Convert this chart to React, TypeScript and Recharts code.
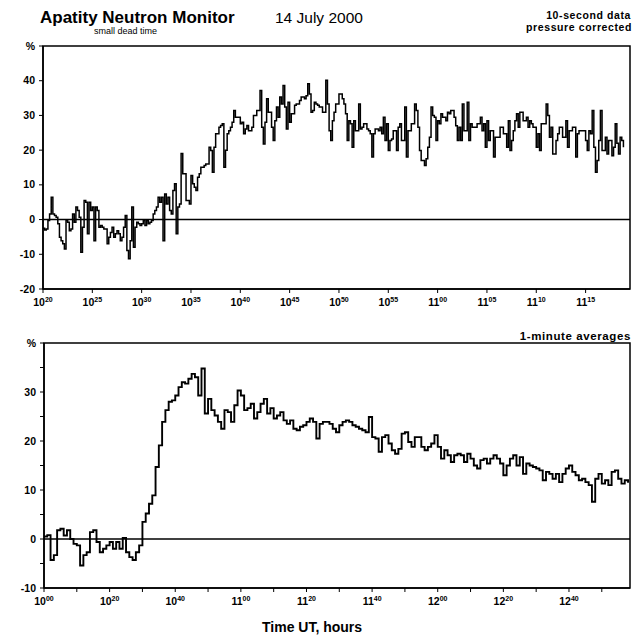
import React from "react";
import {
  LineChart,
  Line,
  XAxis,
  YAxis,
  ReferenceLine,
  ReferenceArea,
} from "recharts";

// 10-second data, starting 10:20 UT (percent)
const topValues = [
  -2.5, -3, -2.7, -0.3, 1.6, 6.4, 1.6, 1.2, 0.7, -1.2,
  -5.1, -6.1, -7.0, -8.5, -0.3, -0.8, -3.2, -2.7, 1.6, -0.8,
  3.6, 2.6, 0.7, -9.4, -2.2, 5.5, 5.0, -4.1, 5.0, 2.6,
  3.6, -6.1, 3.6, 2.6, -2.2, -1.7, -2.2, -2.7, -2.7, -7.0,
  -5.1, -3.7, -2.2, -5.1, -4.1, -3.2, -4.1, -6.1, -5.1, -2.2,
  1.2, -8.9, -11.3, -6.1, 3.6, -8.0, -2.2, -0.8, -1.2, -1.7,
  -1.2, -0.3, -1.7, -0.3, -1.2, -0.8, -0.3, 1.6, 2.6, 3.6,
  6.4, 5.0, 6.4, -6.1, 7.4, 4.5, 6.4, 2.6, 1.6, 8.4,
  10.3, -4.1, 3.6, 4.5, 19.0, 13.2, 13.2, 5.5, 5.5, 4.5,
  12.7, 10.3, 9.3, 8.4, 12.2, 13.2, 15.1, 15.1, 15.6, 16.0,
  16.0, 20.8, 19.9, 13.6, 20.8, 24.7, 24.7, 26.6, 27.1, 27.6,
  15.1, 20.0, 24.7, 25.6, 26.6, 28.0, 31.4, 29.5, 29.5, 29.5,
  27.6, 28.0, 24.7, 26.1, 27.1, 25.6, 25.6, 26.6, 30.0, 30.0,
  31.4, 31.4, 37.2, 26.6, 21.8, 28.0, 34.8, 30.9, 30.9, 26.6,
  22.8, 28.5, 32.4, 29.5, 35.3, 33.3, 38.6, 32.4, 26.1, 33.8,
  28.0, 30.5, 30.5, 32.9,
  33.3, 33.3, 34.3, 35.3, 35.3, 34.8, 35.7, 39.1, 36.2, 30.9,
  31.4, 33.8, 33.3, 32.9, 32.4, 32.4, 30.9, 30.9, 40.1, 33.3,
  25.6, 22.8, 28.5, 30.9, 33.3, 33.3, 36.2, 36.2, 34.8, 33.3,
  30.5, 22.8, 28.5, 27.6, 20.8, 28.5, 25.6, 25.6, 33.3, 26.1,
  26.6, 27.6, 27.6, 26.1, 25.6, 24.7, 18.0, 24.7, 26.1, 26.1,
  25.6, 26.6, 24.7, 29.5, 22.8, 27.6, 19.9, 22.8, 23.2, 25.6,
  25.6, 19.9, 26.6, 27.6, 22.8, 22.8, 32.4, 18.0, 25.6, 25.6,
  27.6, 27.6, 33.3, 31.4, 26.6, 19.9, 17.0, 17.0, 15.6, 17.5,
  20.8, 23.7, 32.4, 30.0, 29.5, 22.8, 28.5, 27.6, 30.5, 29.5,
  29.5, 28.5, 30.9, 30.5, 31.4, 31.4, 29.5, 27.0, 22.8, 26.6,
  22.8, 33.3, 25.6, 25.6, 33.8, 22.8, 27.6, 26.6, 26.6, 26.6,
  27.6, 27.6, 29.5, 25.6, 27.6, 20.8, 28.5, 22.8, 25.6, 25.6,
  18.0, 23.7, 23.7, 23.7, 26.6, 26.6, 24.7, 24.7, 20.8, 28.5,
  19.9, 22.8, 25.6, 28.5, 30.5, 26.6, 30.9, 30.9, 28.5, 28.5,
  29.5, 26.6, 28.5, 27.6, 26.6, 26.6, 20.8, 24.7, 19.9, 27.6,
  27.6, 27.6, 33.3, 30.0, 23.7, 26.6, 18.9, 18.9, 22.8, 24.7,
  26.6, 26.6, 23.7, 23.7, 28.5, 20.8, 25.6, 25.6, 26.6, 26.6,
  18.0, 24.7, 25.6, 25.6, 25.6, 25.6, 22.8, 19.9, 25.6, 24.7,
  31.4, 20.8, 13.6, 17.0, 22.8, 31.4, 19.9, 19.9, 23.7, 18.9,
  22.8, 22.8, 18.4, 20.8, 27.6, 22.0, 18.9, 23.7, 22.8, 20.8,
];

// 1-minute averages, starting 10:00 UT (percent)
const bottomValues = [
  0.5, 0.8, -4.3, -3.3, 1.8, 2.1, 0.7, 1.8, 0, -1,
  -1.3, -5.4, -3.3, -2.7, 1.4, 1.8, -0.6, -2.7, -2, -1.3,
  -0.6, -2, -0.6, -2, 0.2, -2.7, -3.7, -4.3, -2.7, -1.3,
  3.5, 5.2, 7.2, 8.9, 14.7, 19.1, 23.9, 26.3, 28, 28.3,
  29.3, 31, 32, 31.7, 32.7, 33.7, 33, 29.3, 34.8, 25.6,
  28.6, 26.3, 25.2, 23.9, 22.5, 26.3, 25.9, 23.9, 27.3, 30.3,
  29.3, 26.3, 26.7, 27.6, 24.6, 25.9, 27.6, 28.6, 25.6, 26.7,
  24.6, 25.2, 25.9, 24.2, 23.5, 24.2, 22.5, 22.2, 22.9, 23.2,
  23.9, 24.6, 23.9, 20.5, 23.5, 23.9, 23.9, 23.5, 22.5, 21.8,
  23.2, 23.9, 24.2, 23.9, 23.2, 22.9, 22.5, 22.2, 21.8, 24.9,
  20.8, 20.5, 17.8, 20.8, 21.2, 19.5, 18.1, 17.4, 18.4, 21.5,
  21.8, 19.8, 18.8, 20.8, 20.8, 18.8, 18.1, 18.8, 19.5, 21.2,
  18.8, 16.4, 18.1, 17.1, 15.7, 17.1, 17.4, 17.1, 15.7, 17.4,
  16.4, 15.0, 14.4, 16.1, 16.4, 15.4, 16.4, 17.1, 16.4, 15.4,
  13.0, 15.0, 16.4, 17.1, 15.0, 16.7, 13.3, 15.4, 15.0, 14.7,
  14.4, 14.0, 12.0, 13.7, 13.3, 12.3, 13.3, 11.6, 13.3, 14.4,
  15.0, 13.7, 13.0, 12.0, 12.3, 11.6, 11.0, 7.6, 12.3, 13.3,
  11.3, 12.0, 11.0, 13.7, 14.0, 12.3, 11.3, 12.0, 11.5,
];

// tick positions in minutes after 10:00
const topTicks = [20, 25, 30, 35, 40, 45, 50, 55, 60, 65, 70, 75];
const bottomTicks = [0, 10, 20, 30, 40, 50, 60, 70, 80, 90, 100, 110, 120, 130, 140, 150, 160, 170];
const bottomLabelled = [0, 20, 40, 60, 80, 100, 120, 140, 160];
const topYTicks = [-20, -10, 0, 10, 20, 30, 40, 50];
const bottomYTicks = [-10, -5, 0, 5, 10, 15, 20, 25, 30, 35, 40];
const bottomYLabelled = [-10, 0, 10, 20, 30];

const topData = topValues.map((v, i) => ({ t: 20 + i / 6, v }));
const bottomData = bottomValues.map((v, i) => ({ t: i, v }));

const FONT = "'Liberation Sans', Arial, sans-serif";

const TimeTick = (props: any) => {
  const { x, y, payload, show } = props;
  const m = payload.value;
  if (show && !show.includes(m)) return null;
  const h = 10 + Math.floor(m / 60);
  const mm = String(m % 60).padStart(2, "0");
  return (
    <text x={x} y={y + 11} textAnchor="middle" fontFamily={FONT} fontWeight="bold" fontSize={10.5} fill="#000">
      <tspan>{h}</tspan>
      <tspan dy={-4} fontSize={7}>{mm}</tspan>
    </text>
  );
};

const ValueTick = (props: any) => {
  const { x, y, payload, top, show } = props;
  const v = payload.value;
  let label = String(v);
  if (v === top) label = "%";
  else if (show && !show.includes(v)) label = "";
  return (
    <text x={x - 2} y={y + 3.5} textAnchor="end" fontFamily={FONT} fontWeight="bold" fontSize={10.5} fill="#000">
      {label}
    </text>
  );
};

const txt = (style: React.CSSProperties) => ({
  position: "absolute" as const,
  fontFamily: FONT,
  color: "#000",
  whiteSpace: "nowrap" as const,
  lineHeight: 1,
  ...style,
});

export default function App() {
  return (
    <div style={{ position: "absolute", left: 0, top: 0, width: 639, height: 636, background: "#fff" }}>
      <div style={txt({ left: 40, top: 9, fontSize: 17, fontWeight: "bold" })}>Apatity Neutron Monitor</div>
      <div style={txt({ left: 94, top: 27, fontSize: 9 })}>small dead time</div>
      <div style={txt({ left: 275, top: 10, fontSize: 15.5 })}>14 July 2000</div>
      <div style={txt({ right: 8, top: 10, fontSize: 10.5, fontWeight: "bold", letterSpacing: 0.6, textAlign: "right" })}>10-second data</div>
      <div style={txt({ right: 7, top: 22, fontSize: 10.5, fontWeight: "bold", letterSpacing: 0.6, textAlign: "right" })}>pressure corrected</div>
      <div style={txt({ right: 8, top: 331, fontSize: 11.5, fontWeight: "bold", letterSpacing: 0.6, textAlign: "right" })}>1-minute averages</div>
      <div style={txt({ left: 262, top: 620, fontSize: 14, fontWeight: "bold" })}>Time UT, hours</div>

      <div style={{ position: "absolute", left: 0, top: 0 }}>
        <LineChart width={639} height={310} data={topData} margin={{ top: 46, right: 9, left: 0, bottom: 0 }}>
          <XAxis
            dataKey="t"
            type="number"
            domain={[20, 79.5]}
            ticks={topTicks}
            height={21}
            tickSize={4}
            axisLine={{ stroke: "#000", strokeWidth: 1.5 }}
            tickLine={{ stroke: "#000" }}
            tick={<TimeTick />}
            allowDataOverflow
          />
          <YAxis
            type="number"
            domain={[-20, 50]}
            ticks={topYTicks}
            width={43}
            tickSize={4}
            axisLine={{ stroke: "#000", strokeWidth: 1.5 }}
            tickLine={{ stroke: "#000" }}
            tick={<ValueTick top={50} />}
            allowDataOverflow
          />
          <ReferenceArea x1={20} x2={79.5} y1={-20} y2={50} fill="none" stroke="#000" strokeWidth={1.5} fillOpacity={0} />
          <ReferenceLine y={0} stroke="#000" strokeWidth={1.5} />
          <Line dataKey="v" type="stepAfter" stroke="#000" strokeWidth={1.5} dot={false} isAnimationActive={false} />
        </LineChart>
      </div>

      <div style={{ position: "absolute", left: 0, top: 300 }}>
        <LineChart width={639} height={336} data={bottomData} margin={{ top: 43, right: 9, left: 0, bottom: 0 }}>
          <XAxis
            dataKey="t"
            type="number"
            domain={[0, 178.6]}
            ticks={bottomTicks}
            height={48}
            tickSize={4}
            axisLine={{ stroke: "#000", strokeWidth: 1.5 }}
            tickLine={{ stroke: "#000" }}
            tick={<TimeTick show={bottomLabelled} />}
            allowDataOverflow
          />
          <YAxis
            type="number"
            domain={[-10, 40]}
            ticks={bottomYTicks}
            width={44}
            tickSize={4}
            axisLine={{ stroke: "#000", strokeWidth: 1.5 }}
            tickLine={{ stroke: "#000" }}
            tick={<ValueTick top={40} show={bottomYLabelled} />}
            allowDataOverflow
          />
          <ReferenceArea x1={0} x2={178.6} y1={-10} y2={40} fill="none" stroke="#000" strokeWidth={1.5} fillOpacity={0} />
          <ReferenceLine y={0} stroke="#000" strokeWidth={1.5} />
          <Line dataKey="v" type="stepAfter" stroke="#000" strokeWidth={1.9} dot={false} isAnimationActive={false} />
        </LineChart>
      </div>
    </div>
  );
}
